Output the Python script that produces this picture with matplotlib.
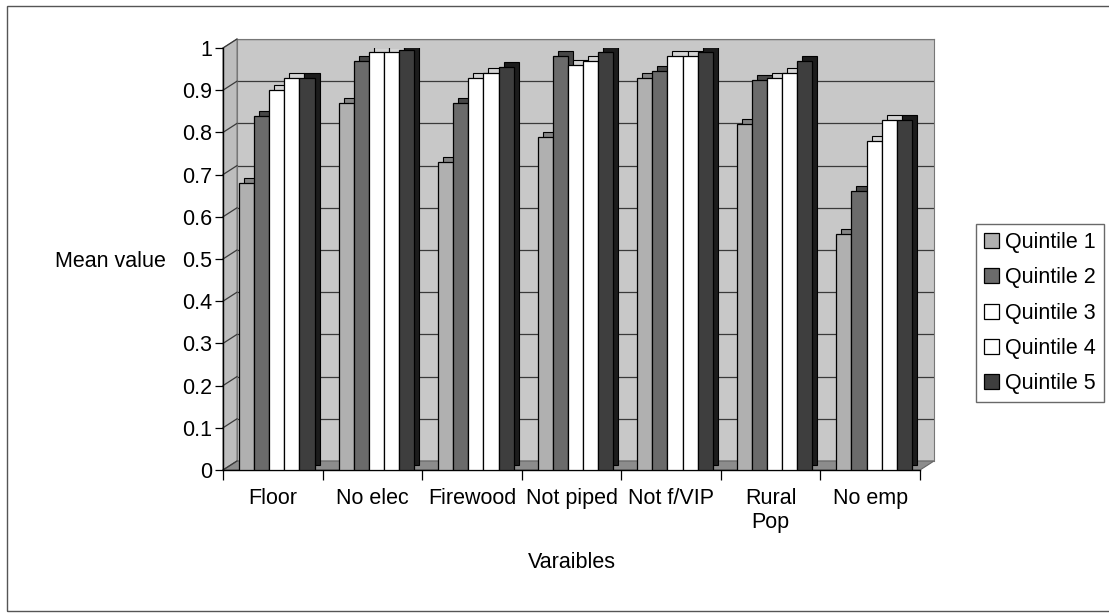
import numpy as np
import matplotlib
matplotlib.use("Agg")
import matplotlib.pyplot as plt
from matplotlib.patches import Polygon, Rectangle
from matplotlib.lines import Line2D
from matplotlib.transforms import ScaledTranslation

categories = ["Floor", "No elec", "Firewood", "Not piped", "Not f/VIP", "Rural\nPop", "No emp"]
series_names = ["Quintile 1", "Quintile 2", "Quintile 3", "Quintile 4", "Quintile 5"]
q1 = [0.68, 0.87, 0.73, 0.79, 0.93, 0.82, 0.56]
q2 = [0.84, 0.97, 0.87, 0.98, 0.945, 0.925, 0.66]
q3 = [0.90, 0.99, 0.93, 0.96, 0.98, 0.93, 0.78]
q4 = [0.93, 0.99, 0.94, 0.97, 0.98, 0.94, 0.83]
q5 = [0.93, 0.995, 0.955, 0.99, 0.99, 0.97, 0.83]
yticks = [0, 0.1, 0.2, 0.3, 0.4, 0.5, 0.6, 0.7, 0.8, 0.9, 1]
ytick_labels = ["0", "0.1", "0.2", "0.3", "0.4", "0.5", "0.6", "0.7", "0.8", "0.9", "1"]

series = [q1, q2, q3, q4, q5]
front_colors = ["#b0b0b0", "#6b6b6b", "#ffffff", "#ffffff", "#3e3e3e"]
back_colors = ["#858585", "#474747", "#d4d4d4", "#d4d4d4", "#1c1c1c"]

plt.rcParams['font.family'] = ['Liberation Sans', 'DejaVu Sans']
FS = 15.5

W, H = 1109, 613
fig = plt.figure(figsize=(W / 100, H / 100), dpi=100)

# pixel geometry (from top-left)
ax_l, ax_r, ax_t, ax_b = 223, 920, 48, 470
DX, DY = 14, 9

def fx(px):
    return px / W

def fy(py):
    return 1 - py / H

# outer frame
fig.add_artist(Rectangle((fx(7), fy(611)), fx(1200) - fx(7), fy(6) - fy(611),
                         transform=fig.transFigure, fill=False, edgecolor="#555555", lw=1.0,
                         zorder=-2))

# back wall axes
axw = fig.add_axes([fx(ax_l + DX), fy(ax_b - DY), (ax_r - ax_l) / W, (ax_b - ax_t) / H])
axw.set_zorder(-1)
axw.set_facecolor("#c8c8c8")
axw.set_xlim(0, len(categories))
axw.set_ylim(0, 1)
axw.set_xticks([])
axw.set_yticks(yticks)
axw.tick_params(left=False, labelleft=False)
axw.grid(axis="y", color="#3a3a3a", lw=0.9)
for s in axw.spines.values():
    s.set_color("#777777")
    s.set_linewidth(0.8)
axw.spines["bottom"].set_visible(False)

# left side wall and floor
fig.add_artist(Polygon([(fx(ax_l), fy(ax_t)), (fx(ax_l + DX), fy(ax_t - DY)),
                        (fx(ax_l + DX), fy(ax_b - DY)), (fx(ax_l), fy(ax_b))],
                       closed=True, transform=fig.transFigure, facecolor="#bdbdbd",
                       edgecolor="#777777", lw=0.8, zorder=-0.5))
fig.add_artist(Polygon([(fx(ax_l), fy(ax_b)), (fx(ax_l + DX), fy(ax_b - DY)),
                        (fx(ax_r + DX), fy(ax_b - DY)), (fx(ax_r), fy(ax_b))],
                       closed=True, transform=fig.transFigure, facecolor="#8c8c8c",
                       edgecolor="#666666", lw=0.8, zorder=-0.5))

# main axes
ax = fig.add_axes([fx(ax_l), fy(ax_b), (ax_r - ax_l) / W, (ax_b - ax_t) / H])
ax.set_zorder(1)
ax.set_facecolor("none")
ax.set_xlim(0, len(categories))
ax.set_ylim(0, 1)

# diagonal connectors from y ticks to back wall
for v in yticks:
    py = ax_b - v * (ax_b - ax_t)
    fig.add_artist(Line2D([fx(ax_l), fx(ax_l + DX)], [fy(py), fy(py - DY)],
                          transform=fig.transFigure, color="#3a3a3a", lw=0.9, zorder=-0.4))

x = np.arange(len(categories))
off0, bw = 0.16, 0.152
shift = ScaledTranslation(5 / 100, 5 / 100, fig.dpi_scale_trans)
for k, (vals, fc, bc, name) in enumerate(zip(series, front_colors, back_colors, series_names)):
    xs = x + off0 + k * bw
    ax.bar(xs, vals, width=bw, align="edge", color=bc, edgecolor="black", lw=0.8,
           transform=ax.transData + shift, zorder=2 + 2 * k)
    ax.bar(xs, vals, width=bw, align="edge", color=fc, edgecolor="black", lw=0.9,
           zorder=3 + 2 * k, label=name)

ax.set_yticks(yticks)
ax.set_yticklabels(ytick_labels, fontsize=FS)
ax.tick_params(axis="y", direction="out", length=6, width=0.9, pad=2)
ax.set_xticks(x + 0.5)
ax.set_xticklabels(categories, fontsize=FS)
ax.tick_params(axis="x", which="major", length=0, pad=13)
ax.set_xticks(np.arange(len(categories) + 1), minor=True)
ax.tick_params(axis="x", which="minor", direction="out", length=7, width=0.9)
for s in ["top", "right"]:
    ax.spines[s].set_visible(False)
ax.spines["left"].set_linewidth(1.0)
ax.spines["bottom"].set_linewidth(1.0)

ax.set_xlabel("Varaibles", fontsize=FS)
ax.xaxis.set_label_coords(0.5, -0.22)
ax.xaxis.label.set_va("center")
ax.set_ylabel("Mean value", fontsize=FS, rotation=0)
ax.yaxis.set_label_coords(-0.162, 0.493)
ax.yaxis.label.set_va("center")
ax.yaxis.label.set_ha("center")

handles, labels = ax.get_legend_handles_labels()
leg = fig.legend(handles, labels, loc="upper left", bbox_to_anchor=(fx(976), fy(224)),
                 fontsize=FS, frameon=True, fancybox=False, edgecolor="#444444",
                 handlelength=0.7, handleheight=0.7, handletextpad=0.25,
                 labelspacing=0.66, borderpad=0.38, borderaxespad=0)
leg.get_frame().set_linewidth(1.0)

fig.savefig("out.png", dpi=100)
